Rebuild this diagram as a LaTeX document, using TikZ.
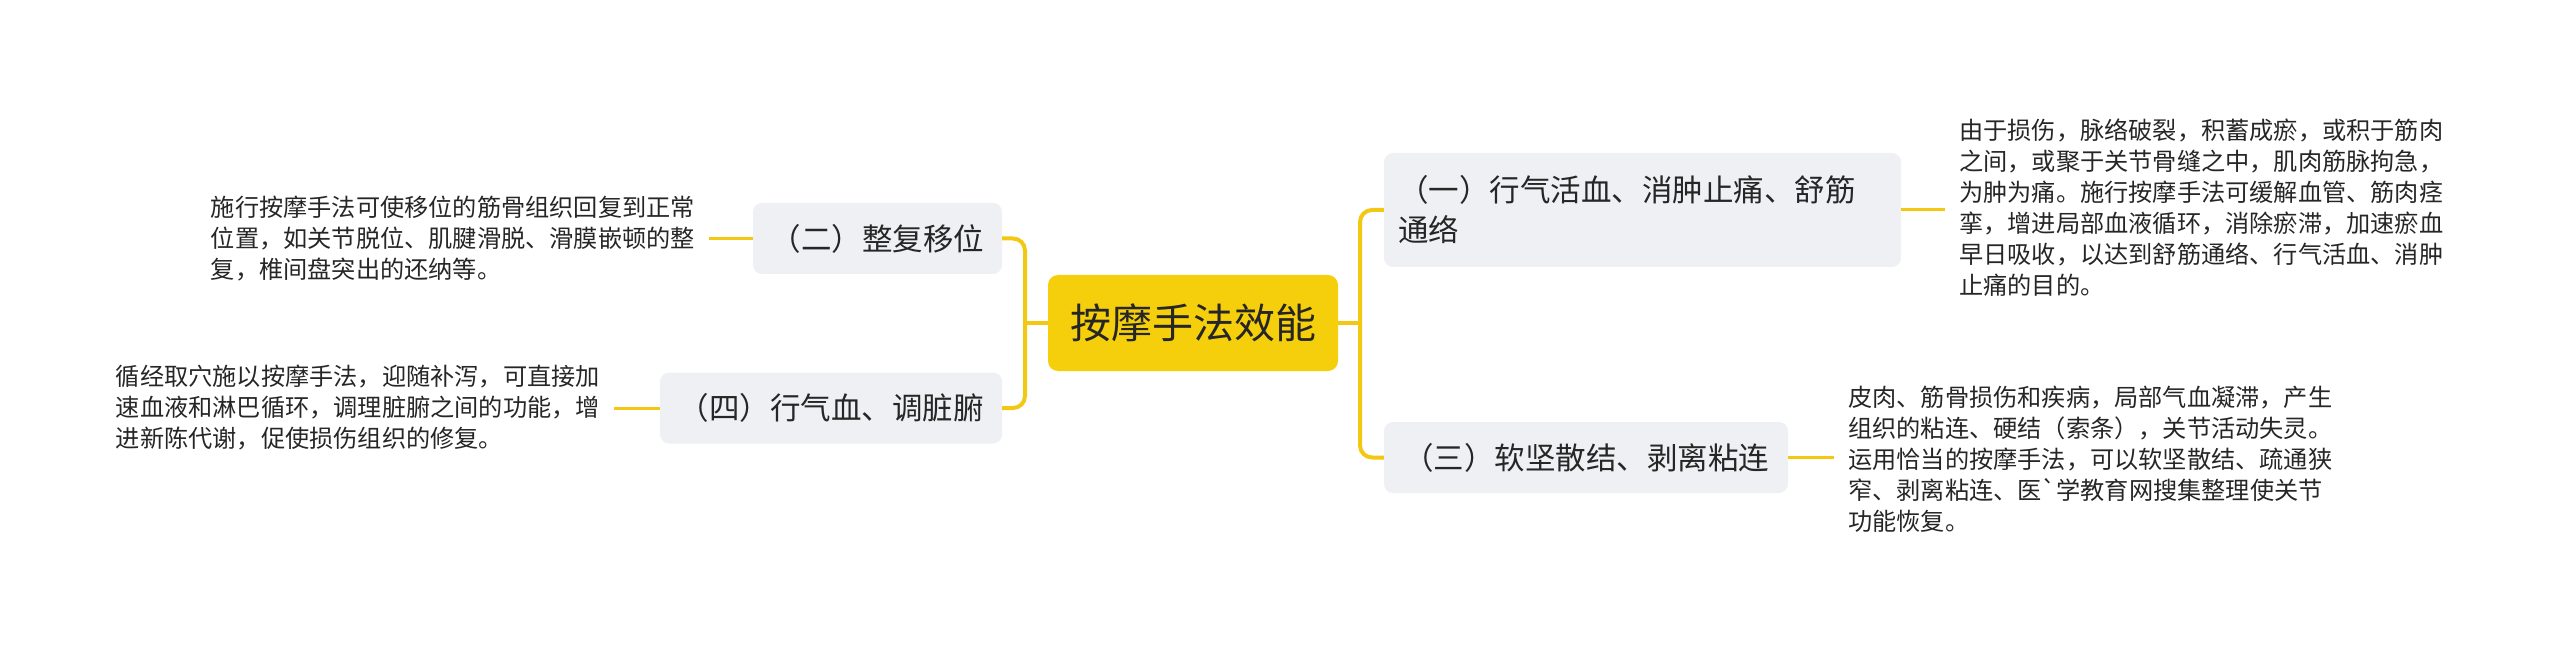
\documentclass[tikz,border=0pt]{standalone}
\usepackage{fontspec}
\usepackage{tikz}
\newfontfamily\cjkfont{Noto Sans CJK SC}
\definecolor{mapyellow}{HTML}{F6CF0C}
\definecolor{lineyellow}{HTML}{F3C813}
\definecolor{topicgray}{HTML}{EEF0F3}
\definecolor{inkgray}{HTML}{262626}

\begin{document}
\begin{tikzpicture}[x=1pt,y=-1pt,
  rootbox/.style={fill=mapyellow,rounded corners=10pt,minimum width=290pt,minimum height=96pt,inner sep=0pt,text=inkgray,font=\cjkfont\fontsize{41pt}{48pt}\selectfont},
  topic/.style={fill=topicgray,rounded corners=9pt,minimum height=71pt,inner xsep=16pt,inner ysep=0pt,text=inkgray,font=\cjkfont\fontsize{30.5pt}{40pt}\selectfont},
  leaf/.style={inner xsep=14pt,inner ysep=0pt,align=left,text=inkgray,font=\cjkfont\fontsize{24.2pt}{31pt}\selectfont},
  trunk/.style={draw=lineyellow,line width=4pt,rounded corners=12pt},
  twig/.style={draw=lineyellow,line width=3pt}]
\useasboundingbox (0,0) rectangle (2560,652);

\node[rootbox] (root) at (1193,323) {按摩手法效能};

%right side
\node[topic,minimum width=517pt,minimum height=114pt,text width=489pt,inner xsep=14pt,align=left] (yi) at (1642.5,210) {（一）行气活血、消肿止痛、舒筋\\通络};
\node[topic,minimum width=404pt] (san) at (1586,457.5) {（三）软坚散结、剥离粘连};
\node[leaf,anchor=west] (yitext) at (1945,208) {由于损伤，脉络破裂，积蓄成瘀，或积于筋肉\\之间，或聚于关节骨缝之中，肌肉筋脉拘急，\\为肿为痛。施行按摩手法可缓解血管、筋肉痉\\挛，增进局部血液循环，消除瘀滞，加速瘀血\\早日吸收，以达到舒筋通络、行气活血、消肿\\止痛的目的。};
\node[leaf,anchor=west] (santext) at (1834,459) {皮肉、筋骨损伤和疾病，局部气血凝滞，产生\\组织的粘连、硬结（索条），关节活动失灵。\\运用恰当的按摩手法，可以软坚散结、疏通狭\\窄、剥离粘连、医`学教育网搜集整理使关节\\功能恢复。};

%left side
\node[topic,minimum width=249pt] (er) at (877.5,238.5) {（二）整复移位};
\node[topic,minimum width=342pt] (si) at (831,408) {（四）行气血、调脏腑};
\node[leaf,anchor=east] (ertext) at (709,238.5) {施行按摩手法可使移位的筋骨组织回复到正常\\位置，如关节脱位、肌腱滑脱、滑膜嵌顿的整\\复，椎间盘突出的还纳等。};
\node[leaf,anchor=east] (sitext) at (614,408) {循经取穴施以按摩手法，迎随补泻，可直接加\\速血液和淋巴循环，调理脏腑之间的功能，增\\进新陈代谢，促使损伤组织的修复。};

\coordinate (rfork) at (1360,323);
\coordinate (lfork) at (1025,323);
\draw[trunk] (root.east) -- (rfork);
\draw[trunk] (rfork) |- (yi.west);
\draw[trunk] (rfork) |- (san.west);
\draw[trunk] (root.west) -- (lfork);
\draw[trunk] (lfork) |- (er.east);
\draw[trunk] (lfork) |- (si.east);

\draw[twig] (yi.east) -- (yi.east -| yitext.west);
\draw[twig] (san.east) -- (san.east -| santext.west);
\draw[twig] (er.west) -- (er.west -| ertext.east);
\draw[twig] (si.west) -- (si.west -| sitext.east);
\end{tikzpicture}
\end{document}
